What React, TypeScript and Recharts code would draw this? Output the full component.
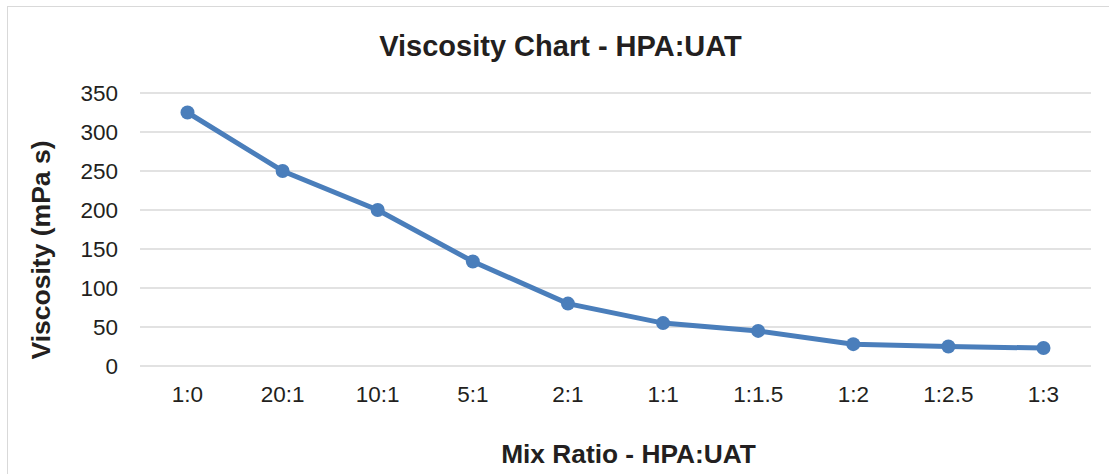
import { CartesianGrid, Line, LineChart, XAxis, YAxis } from 'recharts';

const ratios = ['1:0', '20:1', '10:1', '5:1', '2:1', '1:1', '1:1.5', '1:2', '1:2.5', '1:3'];
const viscosity = [325, 250, 200, 134, 80, 55, 45, 28, 25, 23];
const yTicks = [0, 50, 100, 150, 200, 250, 300, 350];

const BLUE = '#4a7ebb';
const GRID = '#d9d9d9';
const INK = '#231f20';
const FONT = '"Liberation Sans", Arial, sans-serif';

const data = ratios.map((r, i) => ({ ratio: r, viscosity: viscosity[i] }));

export default function App() {
  return (
    <div style={{ position: 'absolute', left: 0, top: 0, width: 1109, height: 474, background: '#fff', overflow: 'hidden', fontFamily: FONT }}>
      <div style={{ position: 'absolute', left: 7, top: 6, width: 1120, height: 480, border: `1.5px solid ${GRID}`, boxSizing: 'border-box' }} />
      <LineChart width={1109} height={474} data={data} margin={{ top: 93, right: 18, left: 0, bottom: 78 }}>
        <CartesianGrid vertical={false} stroke={GRID} strokeWidth={1.5} />
        <XAxis
          dataKey="ratio"
          axisLine={false}
          tickLine={false}
          tickSize={0}
          tickMargin={20}
          height={30}
          interval={0}
          padding={{ left: 47.5, right: 47.5 }}
          tick={{ fontSize: 22.5, fill: INK, fontFamily: FONT }}
        />
        <YAxis
          width={140}
          domain={[0, 350]}
          ticks={yTicks}
          axisLine={false}
          tickLine={false}
          tickSize={0}
          tickMargin={22}
          tick={{ fontSize: 22.5, fill: INK, fontFamily: FONT }}
        />
        <Line
          type="linear"
          dataKey="viscosity"
          stroke={BLUE}
          strokeWidth={5}
          dot={{ r: 7, fill: BLUE, stroke: 'none' }}
          activeDot={false}
          isAnimationActive={false}
        />
        <text x={560.5} y={56} textAnchor="middle" fontSize={29} fontWeight="bold" fill={INK} fontFamily={FONT}>
          Viscosity Chart - HPA:UAT
        </text>
        <text x={628.5} y={463} textAnchor="middle" fontSize={26.3} fontWeight="bold" fill={INK} fontFamily={FONT}>
          Mix Ratio - HPA:UAT
        </text>
        <text
          x={0}
          y={0}
          transform="translate(49.5, 250) rotate(-90)"
          textAnchor="middle"
          fontSize={26.5}
          fontWeight="bold"
          fill={INK}
          fontFamily={FONT}
        >
          Viscosity (mPa s)
        </text>
      </LineChart>
    </div>
  );
}
